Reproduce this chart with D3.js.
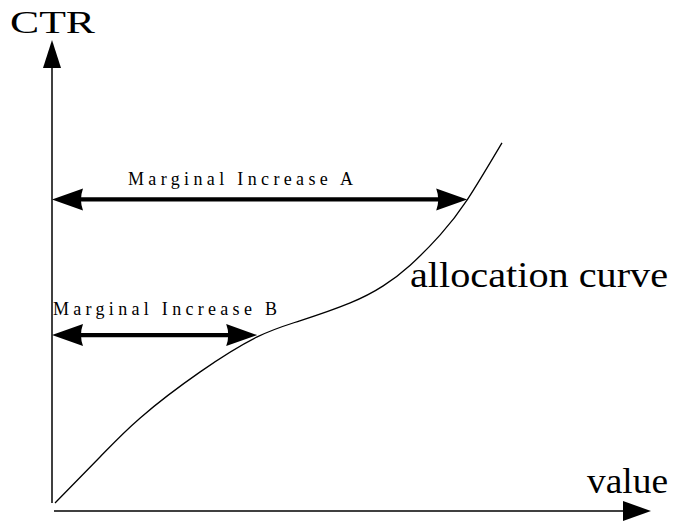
<!DOCTYPE html>
<html><head><meta charset="utf-8">
<script src="https://cdn.jsdelivr.net/npm/d3@7"></script>
<style>body{margin:0;background:#fff;}svg{display:block;}</style>
</head><body>
<script>
// curve data (value, CTR) in abstract units
const curveX = [0.05, 0.80, 1.47, 2.47, 3.42, 4.13, 4.97, 5.52, 5.97, 6.47, 6.92, 7.50];
const curveY = [0.00, 1.00, 1.85, 2.85, 3.61, 3.96, 4.35, 4.72, 5.17, 5.83, 6.59, 7.83];
// marginal increase arrows
const arrowLabels = ["Marginal Increase A", "Marginal Increase B"];
const arrowLevel = [6.60, 3.65];
const arrowEnd = [6.92, 3.42];
const axisLabels = {x: "value", y: "CTR"};
const curveLabel = "allocation curve";

const W = 699, H = 521;
const svg = d3.select("body").append("svg").attr("width", W).attr("height", H);
const x = d3.scaleLinear().domain([0, 10]).range([52, 652]);
const y = d3.scaleLinear().domain([0, 10]).range([503, 43]);
const font = "'Liberation Serif', 'DejaVu Serif', serif";

// y axis
svg.append("line").attr("x1", x(0)).attr("x2", x(0)).attr("y1", y(0)).attr("y2", 62)
  .attr("stroke", "#000").attr("stroke-width", 1.5);
svg.append("path").attr("d", `M${x(0)},40 L${x(0)-9},68 L${x(0)+9},68 Z`).attr("fill", "#000");
// x axis
const xAxisY = y(0) + 8;
svg.append("line").attr("x1", x(0) + 2).attr("x2", 628).attr("y1", xAxisY).attr("y2", xAxisY)
  .attr("stroke", "#000").attr("stroke-width", 1.5);
svg.append("path").attr("d", `M651,${xAxisY} L623,${xAxisY-10} L623,${xAxisY+10} Z`).attr("fill", "#000");

// axis labels
svg.append("text").attr("x", 10).attr("y", 33).attr("font-family", font).attr("font-size", 32)
  .attr("textLength", 85).attr("lengthAdjust", "spacingAndGlyphs").text(axisLabels.y);
svg.append("text").attr("x", 587).attr("y", 493).attr("font-family", font).attr("font-size", 35)
  .attr("textLength", 81).attr("lengthAdjust", "spacingAndGlyphs").text(axisLabels.x);

// curve
const pts = curveX.map((v, i) => [v, curveY[i]]);
svg.append("path").datum(pts)
  .attr("d", d3.line().x(d => x(d[0])).y(d => y(d[1])).curve(d3.curveNatural))
  .attr("fill", "none").attr("stroke", "#000").attr("stroke-width", 1.3);
svg.append("text").attr("x", 410).attr("y", 287).attr("font-family", font).attr("font-size", 36)
  .attr("textLength", 258).attr("lengthAdjust", "spacingAndGlyphs").text(curveLabel);

// double arrows
function head(tipX, yy, dir) {
  const L = 31, h = 11, c = 4;
  const bx = tipX + dir * L;
  return `M${tipX},${yy} L${bx},${yy-h} Q${bx - dir*c},${yy} ${bx},${yy+h} Z`;
}
const labelPos = [{x: 128, w: 225, dy: -14}, {x: 53, w: 224, dy: -20}];
arrowLabels.forEach((lab, i) => {
  const yy = y(arrowLevel[i]);
  const x0 = x(0), x1 = x(arrowEnd[i]);
  svg.append("line").attr("x1", x0 + 20).attr("x2", x1 - 20).attr("y1", yy).attr("y2", yy)
    .attr("stroke", "#000").attr("stroke-width", 4.3);
  svg.append("path").attr("d", head(x0, yy, 1)).attr("fill", "#000");
  svg.append("path").attr("d", head(x1, yy, -1)).attr("fill", "#000");
  svg.append("text").attr("x", labelPos[i].x).attr("y", yy + labelPos[i].dy)
    .attr("font-family", font).attr("font-size", 18)
    .attr("textLength", labelPos[i].w).attr("lengthAdjust", "spacing").text(lab);
});
</script>
</body></html>
